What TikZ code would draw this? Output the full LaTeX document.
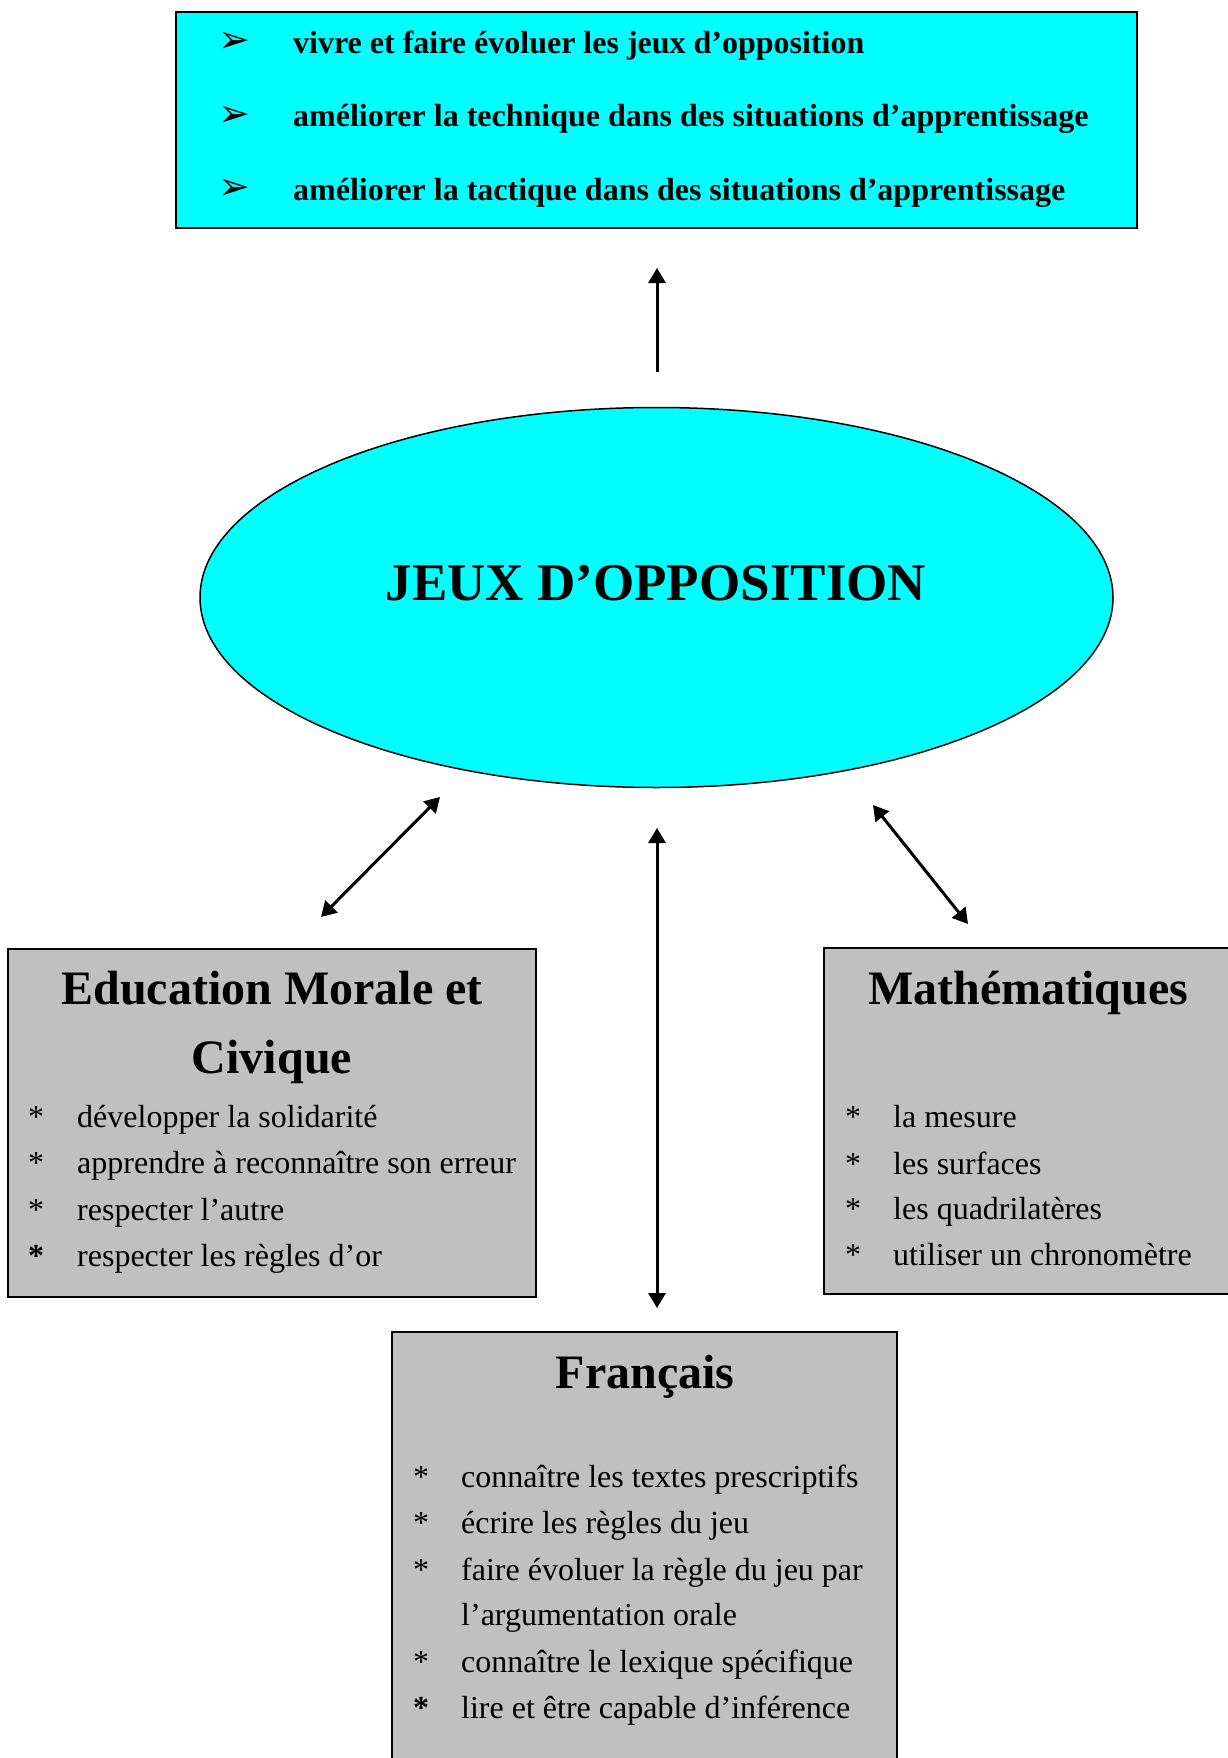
\documentclass[tikz,border=0pt]{standalone}
\usepackage{fontspec}
\setmainfont{Liberation Serif}
\newfontfamily\dejavu{DejaVu Sans}
\usetikzlibrary{arrows.meta,shapes.geometric}
\definecolor{cyanfill}{HTML}{00FFFF}
\definecolor{grayfill}{HTML}{C0C0C0}
\tikzset{
  boxstyle/.style={draw=black,line width=2pt},
  topline/.style={anchor=base west,inner sep=0pt,font=\fontsize{32}{36}\selectfont\bfseries},
  itemtext/.style={anchor=base west,inner sep=0pt,font=\fontsize{32}{36}\selectfont},
  startxt/.style={anchor=base west,inner sep=0pt,font=\fontsize{32}{36}\selectfont},
  titletext/.style={anchor=base,inner sep=0pt,font=\fontsize{48}{54}\selectfont\bfseries},
  bullet/.style={anchor=center,inner sep=0pt,font=\fontsize{38}{42}\selectfont\dejavu},
  arr/.style={line width=3pt,-{Triangle[length=15pt,width=17pt]}},
  dblarr/.style={line width=3pt,{Triangle[length=15pt,width=17pt]}-{Triangle[length=15pt,width=17pt]}}
}
\begin{document}
\begin{tikzpicture}[x=1pt,y=-1pt]
\useasboundingbox (0,0) rectangle (1227,1758);
% top box
\path[boxstyle,fill=cyanfill] (176,12) rectangle (1137,228);
\node[draw=none,minimum width=961pt,minimum height=216pt,inner sep=0pt] (topbox) at (656.5,120) {};
\node[bullet] (b1) at (234,42) {➢};
\node[bullet] (b2) at (234,116) {➢};
\node[bullet] (b3) at (234,189) {➢};
\node[topline] (t1) at (293,54) {vivre et faire évoluer les jeux d’opposition};
\node[topline] (t2) at (293,127) {améliorer la technique dans des situations d’apprentissage};
\node[topline] (t3) at (293,200) {améliorer la tactique dans des situations d’apprentissage};
% ellipse
\node[ellipse,draw=black,line width=1.5pt,fill=cyanfill,minimum width=913pt,minimum height=380pt,inner sep=0pt] (ell) at (656.5,597.5) {};
\node[anchor=base,inner sep=0pt,font=\fontsize{53}{60}\selectfont\bfseries] (jeux) at (656,600) {JEUX D’OPPOSITION};
% left box
\path[boxstyle,fill=grayfill] (8,949) rectangle (536,1297);
\node[minimum width=528pt,minimum height=348pt,inner sep=0pt] (emc) at (272,1123) {};
\node[titletext] (emct1) at (272,1004) {Education Morale et};
\node[titletext] (emct2) at (272,1073) {Civique};
\node[startxt] (es1) at (28,1127) {*};
\node[startxt] (es2) at (28,1173) {*};
\node[startxt] (es3) at (28,1220) {*};
\node[startxt,font=\fontsize{32}{36}\selectfont\bfseries] (es4) at (28,1266) {*};
\node[itemtext] (e1) at (77,1127) {développer la solidarité};
\node[itemtext] (e2) at (77,1173) {apprendre à reconnaître son erreur};
\node[itemtext] (e3) at (77,1220) {respecter l’autre};
\node[itemtext] (e4) at (77,1266) {respecter les règles d’or};
% right box
\path[boxstyle,fill=grayfill] (1240,948) -- (824,948) -- (824,1294) -- (1240,1294);
\node[minimum width=403pt,minimum height=346pt,inner sep=0pt] (math) at (1026,1121) {};
\node[titletext] (mt) at (1028,1004) {Mathématiques};
\node[startxt] (ms1) at (845,1127) {*};
\node[startxt] (ms2) at (845,1174) {*};
\node[startxt] (ms3) at (845,1219) {*};
\node[startxt] (ms4) at (845,1265) {*};
\node[itemtext] (m1) at (893,1127) {la mesure};
\node[itemtext] (m2) at (893,1174) {les surfaces};
\node[itemtext] (m3) at (893,1219) {les quadrilatères};
\node[itemtext] (m4) at (893,1265) {utiliser un chronomètre};
% bottom box
\path[boxstyle,fill=grayfill] (392,1780) -- (392,1332) -- (897,1332) -- (897,1780);
\node[minimum width=505pt,minimum height=426pt,inner sep=0pt] (fr) at (644.5,1545) {};
\node[titletext] (ft) at (645,1388) {Français};
\node[startxt] (fs1) at (413,1487) {*};
\node[startxt] (fs2) at (413,1533) {*};
\node[startxt] (fs3) at (413,1580) {*};
\node[startxt] (fs5) at (413,1672) {*};
\node[startxt,font=\fontsize{32}{36}\selectfont\bfseries] (fs6) at (413,1718) {*};
\node[itemtext] (f1) at (461,1487) {connaître les textes prescriptifs};
\node[itemtext] (f2) at (461,1533) {écrire les règles du jeu};
\node[itemtext] (f3) at (461,1580) {faire évoluer la règle du jeu par};
\node[itemtext] (f4) at (461,1625) {l’argumentation orale};
\node[itemtext] (f5) at (461,1672) {connaître le lexique spécifique};
\node[itemtext] (f6) at (461,1718) {lire et être capable d’inférence};
% arrow end points
\coordinate (upA) at (657,372);
\coordinate (upB) at (657,268);
\coordinate (lA) at (440,797);
\coordinate (lB) at (321,917);
\coordinate (cA) at (657,828);
\coordinate (cB) at (657,1308);
\coordinate (rA) at (873,805);
\coordinate (rB) at (968,924);
\draw[arr] (upA) -- (upB);
\draw[dblarr] (lA) -- (lB);
\draw[dblarr] (cA) -- (cB);
\draw[dblarr] (rA) -- (rB);
\end{tikzpicture}
\end{document}
